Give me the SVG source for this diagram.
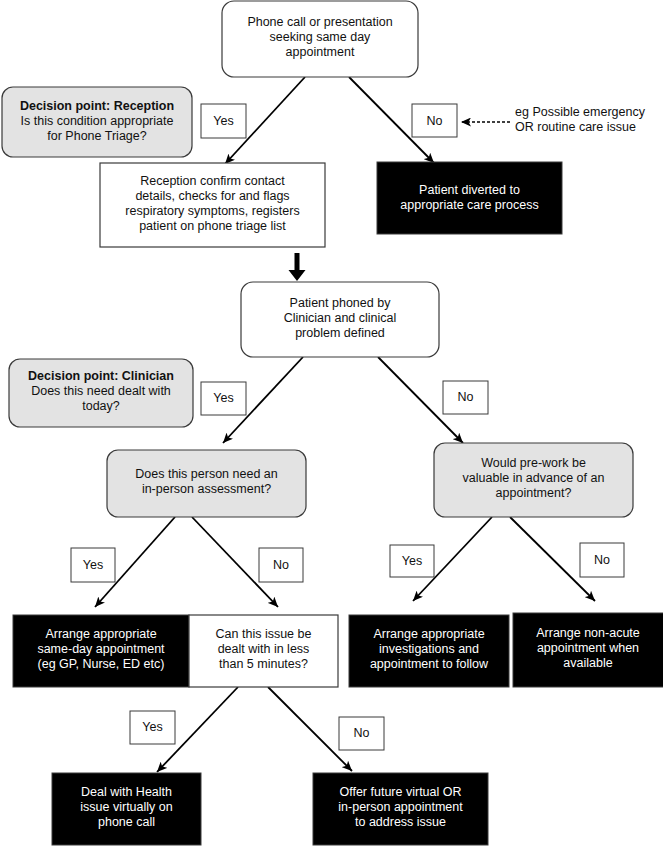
<svg xmlns="http://www.w3.org/2000/svg" width="663" height="846" viewBox="0 0 663 846">
<defs>
<style>
text{font-family:"Liberation Sans",Arial,sans-serif;font-size:12.5px;text-anchor:middle;fill:#111}
.b{font-weight:bold}
.w{fill:#fff}
.l{text-anchor:start}
.rw{fill:#fff;stroke:#3a3a3a;stroke-width:1.2}
.rg{fill:#e3e3e3;stroke:#3a3a3a;stroke-width:1.2}
.bk{fill:#000;stroke:#3a3a3a;stroke-width:1}
.lb{fill:#fff;stroke:#3a3a3a;stroke-width:1}
.c{stroke:#000;stroke-width:1.8;fill:none;marker-end:url(#ah)}
</style>
<marker id="ah" markerUnits="userSpaceOnUse" markerWidth="11" markerHeight="9" refX="10" refY="4.5" orient="auto">
<path d="M0,0 L10,4.5 L0,9 L2.5,4.5 z" fill="#000"/>
</marker>
</defs>
<g id="connectors">
<line class="c" x1="305" y1="77" x2="225" y2="164"/>
<line class="c" x1="349" y1="77" x2="434" y2="163"/>
<path d="M294.5,253 h5 v17 h6 l-8.5,11 l-8.5,-11 h6 z" fill="#000"/>
<line class="c" x1="303" y1="357" x2="223" y2="443"/>
<line class="c" x1="378" y1="357" x2="463" y2="443"/>
<line class="c" x1="175" y1="517" x2="95" y2="607"/>
<line class="c" x1="192" y1="517" x2="278" y2="607"/>
<line class="c" x1="492" y1="517" x2="413" y2="601"/>
<line class="c" x1="510" y1="517" x2="595" y2="601"/>
<line class="c" x1="238" y1="687" x2="157" y2="772"/>
<line class="c" x1="268" y1="687" x2="352" y2="771"/>
<line x1="510" y1="122" x2="461" y2="122" stroke="#000" stroke-width="1.5" stroke-dasharray="3,2" marker-end="url(#ah)"/>
</g>
<g id="n-start"><rect class="rw" x="222" y="1" width="196" height="76" rx="12"/>
<text x="320" y="26">Phone call or presentation</text><text x="320" y="41">seeking same day</text><text x="320" y="56">appointment</text></g>
<g id="n-dp-reception"><rect class="rg" x="2" y="87" width="190" height="70" rx="11"/>
<text class="b" x="97" y="110">Decision point: Reception</text><text x="97" y="125">Is this condition appropriate</text><text x="97" y="140">for Phone Triage?</text></g>
<g id="l-yes1"><rect class="lb" x="201" y="104" width="45" height="34"/><text x="223.5" y="125">Yes</text></g>
<g id="l-no1"><rect class="lb" x="412" y="104" width="45" height="33"/><text x="434.5" y="125">No</text></g>
<g id="n-note"><text class="l" x="515" y="116">eg Possible emergency</text><text class="l" x="515" y="131">OR routine care issue</text></g>
<g id="n-reception"><rect class="rw" x="100" y="163" width="225" height="84"/>
<text x="212.5" y="184.5">Reception confirm contact</text><text x="212.5" y="199.5">details, checks for and flags</text><text x="212.5" y="214.5">respiratory symptoms, registers</text><text x="212.5" y="229.5">patient on phone triage list</text></g>
<g id="n-diverted"><rect class="bk" x="377" y="162" width="185" height="72"/>
<text class="w" x="469.5" y="193.5">Patient diverted to</text><text class="w" x="469.5" y="208.5">appropriate care process</text></g>
<g id="n-phoned"><rect class="rw" x="241" y="282" width="198" height="75" rx="12"/>
<text x="340" y="307">Patient phoned by</text><text x="340" y="322">Clinician and clinical</text><text x="340" y="337">problem defined</text></g>
<g id="n-dp-clinician"><rect class="rg" x="9" y="359" width="184" height="68" rx="11"/>
<text class="b" x="101" y="380">Decision point: Clinician</text><text x="101" y="395">Does this need dealt with</text><text x="101" y="410">today?</text></g>
<g id="l-yes2"><rect class="lb" x="201" y="382" width="45" height="33"/><text x="223.5" y="402">Yes</text></g>
<g id="l-no2"><rect class="lb" x="443" y="381" width="45" height="33"/><text x="465.5" y="401">No</text></g>
<g id="n-inperson"><rect class="rg" x="107" y="450" width="199" height="67" rx="11"/>
<text x="206.5" y="478">Does this person need an</text><text x="206.5" y="493">in-person assessment?</text></g>
<g id="n-prework"><rect class="rg" x="434" y="443" width="199" height="74" rx="11"/>
<text x="533.5" y="467">Would pre-work be</text><text x="533.5" y="482">valuable in advance of an</text><text x="533.5" y="497">appointment?</text></g>
<g id="l-yes3"><rect class="lb" x="71" y="548" width="44" height="34"/><text x="93" y="569">Yes</text></g>
<g id="l-no3"><rect class="lb" x="259" y="548" width="44" height="34"/><text x="281" y="569">No</text></g>
<g id="l-yes4"><rect class="lb" x="390" y="545" width="44" height="32"/><text x="412" y="565">Yes</text></g>
<g id="l-no4"><rect class="lb" x="580" y="543" width="44" height="34"/><text x="602" y="564">No</text></g>
<g id="n-sameday"><rect class="bk" x="13" y="615" width="176" height="72"/>
<text class="w" x="101" y="638">Arrange appropriate</text><text class="w" x="101" y="653">same-day appointment</text><text class="w" x="101" y="668">(eg GP, Nurse, ED etc)</text></g>
<g id="n-fivemin"><rect class="rw" x="189" y="615" width="149" height="72"/>
<text x="263.5" y="638">Can this issue be</text><text x="263.5" y="653">dealt with in less</text><text x="263.5" y="668">than 5 minutes?</text></g>
<g id="n-invest"><rect class="bk" x="349" y="615" width="160" height="72"/>
<text class="w" x="429" y="638">Arrange appropriate</text><text class="w" x="429" y="653">investigations and</text><text class="w" x="429" y="668">appointment to follow</text></g>
<g id="n-nonacute"><rect class="bk" x="513" y="613" width="152" height="74"/>
<text class="w" x="588" y="637">Arrange non-acute</text><text class="w" x="588" y="652">appointment when</text><text class="w" x="588" y="667">available</text></g>
<g id="l-yes5"><rect class="lb" x="130" y="711" width="45" height="33"/><text x="152.5" y="731">Yes</text></g>
<g id="l-no5"><rect class="lb" x="339" y="717" width="45" height="33"/><text x="361.5" y="737">No</text></g>
<g id="n-virtual"><rect class="bk" x="52" y="773" width="149" height="72"/>
<text class="w" x="126.5" y="796">Deal with Health</text><text class="w" x="126.5" y="811">issue virtually on</text><text class="w" x="126.5" y="826">phone call</text></g>
<g id="n-future"><rect class="bk" x="313" y="773" width="175" height="72"/>
<text class="w" x="400.5" y="796">Offer future virtual OR</text><text class="w" x="400.5" y="811">in-person appointment</text><text class="w" x="400.5" y="826">to address issue</text></g>
</svg>
